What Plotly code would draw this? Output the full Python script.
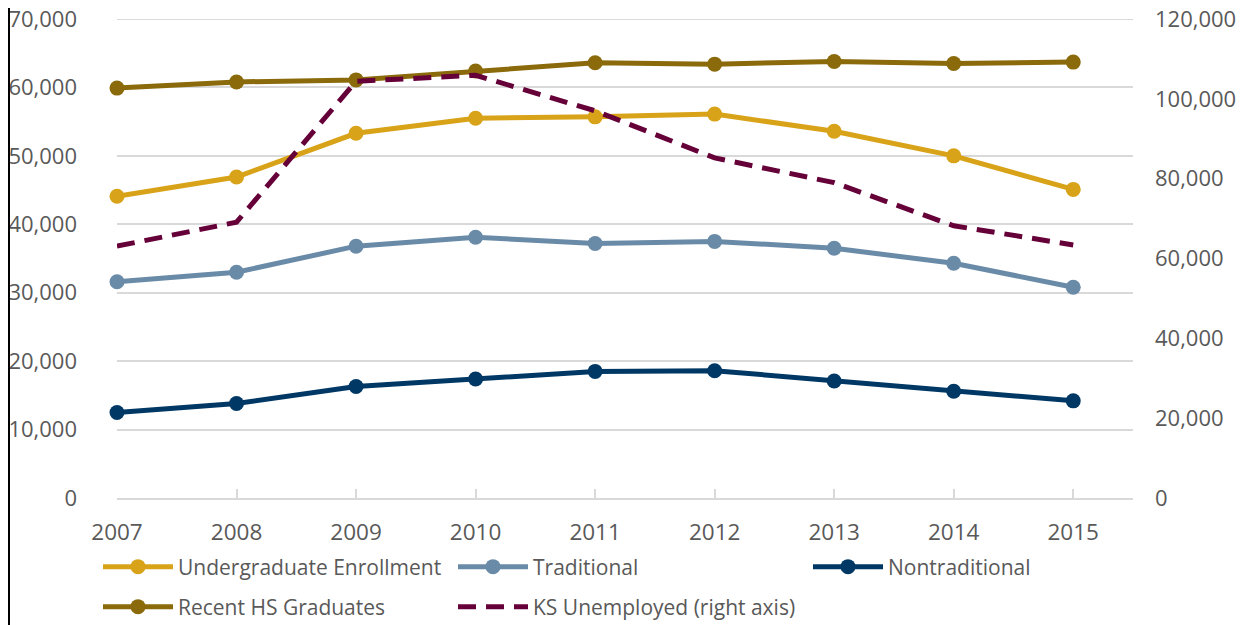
import plotly.graph_objects as go

years = [2007, 2008, 2009, 2010, 2011, 2012, 2013, 2014, 2015]
undergrad = [44100, 46900, 53300, 55500, 55700, 56100, 53600, 50000, 45100]
traditional = [31600, 33000, 36800, 38100, 37200, 37500, 36500, 34300, 30800]
nontraditional = [12500, 13800, 16300, 17400, 18500, 18600, 17100, 15600, 14200]
recent_hs = [59900, 60800, 61100, 62400, 63600, 63400, 63800, 63500, 63700]
ks_unemployed = [63100, 69100, 104400, 105900, 97000, 85200, 79000, 68200, 63400]

left_ticks = [0, 10000, 20000, 30000, 40000, 50000, 60000, 70000]
right_ticks = [0, 20000, 40000, 60000, 80000, 100000, 120000]

fig = go.Figure()

def add_line(name, y, color, legend, yaxis="y", dash=None, marker=True):
    fig.add_trace(go.Scatter(
        x=years, y=y, name=name, yaxis=yaxis, legend=legend,
        mode="lines+markers" if marker else "lines",
        line=dict(color=color, width=5, dash=dash),
        marker=dict(size=15, color=color),
        cliponaxis=False,
    ))

add_line("Undergraduate Enrollment", undergrad, "#D8A318", "legend")
add_line("Traditional", traditional, "#6A8BA8", "legend")
add_line("Nontraditional", nontraditional, "#003865", "legend")
add_line("Recent HS Graduates", recent_hs, "#8A6A0A", "legend2")
add_line("KS Unemployed (right axis)", ks_unemployed, "#660038", "legend2",
         yaxis="y2", dash="18px,10px", marker=False)

font = dict(family="Open Sans, Noto Sans, sans-serif", size=20, color="#595959")

legend_common = dict(
    orientation="h", x=-0.0187, xanchor="left", yanchor="middle",
    xref="paper", yref="paper", entrywidth=270, entrywidthmode="pixels",
    font=dict(size=21), bgcolor="rgba(0,0,0,0)", itemwidth=70,
)

fig.update_layout(
    width=1242, height=617,
    margin=dict(l=109, r=117, t=11, b=127, autoexpand=False),
    paper_bgcolor="white", plot_bgcolor="white",
    font=font,
    showlegend=True,
    xaxis=dict(
        range=[2007, 2015.5], tickvals=years, ticktext=[str(v) for v in years],
        showgrid=False, zeroline=False, showline=True, linecolor="#D9D9D9", linewidth=2,
        ticks="inside", ticklen=9, tickcolor="#D9D9D9", tickwidth=2,
        ticklabelstandoff=13, tickfont=dict(size=22.5),
    ),
    yaxis=dict(
        range=[0, 70000], tickvals=left_ticks, tickformat=",d",
        showgrid=True, gridcolor="#D9D9D9", gridwidth=2, zeroline=False,
        showline=False, ticks="", ticklabelstandoff=39, tickfont=dict(size=22),
        ticklabeloverflow="allow",
    ),
    yaxis2=dict(
        range=[0, 120000], tickvals=right_ticks, tickformat=",d",
        overlaying="y", side="right", showgrid=False, zeroline=False,
        showline=False, ticks="", ticklabelstandoff=21, tickfont=dict(size=22),
        ticklabeloverflow="allow",
    ),
    legend=dict(legend_common, y=-0.144),
    legend2=dict(legend_common, y=-0.2276),
    shapes=[
        # left frame line of the original image
        dict(type="line", xref="paper", yref="paper", x0=-0.1063, x1=-0.1063,
             y0=-0.3, y1=1.1, line=dict(color="black", width=2)),
        # top gridline (plotly drops gridlines lying exactly on the plot edge)
        dict(type="line", xref="paper", yref="y", x0=0, x1=1,
             y0=left_ticks[-1], y1=left_ticks[-1], layer="below",
             line=dict(color="#D9D9D9", width=2)),
    ],
)

fig.write_html("out.html")
